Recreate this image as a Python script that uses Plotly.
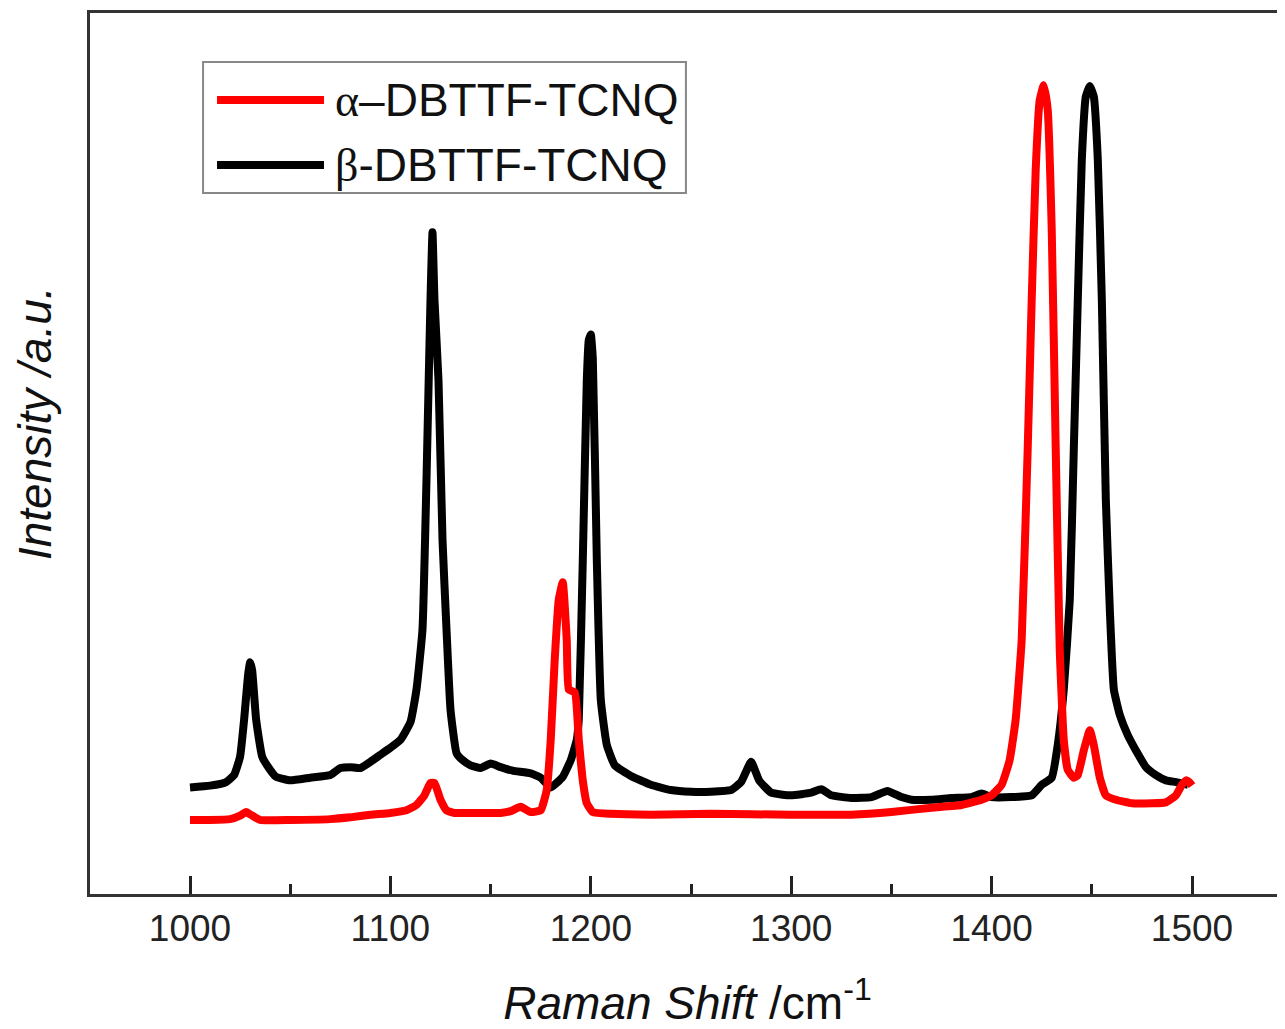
import plotly.graph_objects as go

# ---- data (Raman shift in cm^-1, intensity in arbitrary units) ----
series_names = ["α–DBTTF-TCNQ", "β-DBTTF-TCNQ"]

alpha_shift = [1000, 1010, 1020, 1025, 1028, 1031, 1035, 1050, 1070, 1080, 1090, 1100,
               1108, 1113, 1117, 1120, 1122, 1125, 1128, 1132, 1145, 1155, 1160, 1165,
               1170, 1175, 1178, 1180, 1182, 1184, 1186, 1188, 1189, 1192, 1194, 1196,
               1198, 1201, 1210, 1230, 1260, 1300, 1330, 1350, 1370, 1385, 1395, 1400,
               1405, 1409, 1412, 1415, 1418, 1420, 1422, 1424, 1426, 1428, 1430, 1432,
               1434, 1436, 1438, 1441, 1443, 1446, 1449, 1451, 1454, 1457, 1462, 1470,
               1480, 1487, 1492, 1495, 1497, 1499, 1500]
alpha_int = [8.4, 8.4, 8.5, 8.9, 9.3, 8.9, 8.4, 8.4, 8.5, 8.7, 9.0, 9.2,
             9.5, 10.1, 11.2, 12.6, 12.6, 10.7, 9.5, 9.2, 9.2, 9.2, 9.4, 9.9,
             9.3, 9.5, 11.8, 17.5, 26.6, 33.4, 35.4, 28.8, 23.2, 22.9, 17.5, 12.9,
             10.3, 9.3, 9.1, 9.0, 9.1, 9.0, 9.0, 9.3, 9.8, 10.1, 10.7, 11.2,
             12.4, 15.2, 19.8, 28.8, 50.4, 67.4, 82.2, 90.1, 91.8, 89.0, 75.4, 50.4,
             27.7, 17.5, 14.1, 13.2, 13.5, 16.3, 18.6, 16.9, 13.2, 11.2, 10.7, 10.3,
             10.3, 10.4, 11.2, 12.4, 12.9, 12.6, 12.3]

beta_shift = [1000, 1010, 1018, 1022, 1025, 1027, 1029, 1030, 1031, 1033, 1036, 1040,
              1043, 1050, 1060, 1070, 1075, 1080, 1085, 1090, 1095, 1100, 1105, 1110,
              1113, 1116, 1118, 1120, 1121, 1122, 1124, 1126, 1128, 1130, 1133, 1136,
              1140, 1145, 1150, 1155, 1161, 1170, 1175, 1180, 1186, 1190, 1193, 1194,
              1196, 1198, 1199, 1200, 1201, 1203, 1205, 1208, 1212, 1220, 1230, 1240,
              1250, 1260, 1270, 1275, 1280, 1284, 1290, 1300, 1310, 1315, 1320, 1330,
              1340, 1348, 1355, 1360, 1370, 1380, 1390, 1395, 1400, 1410, 1420, 1425,
              1430, 1433, 1436, 1439, 1441, 1443, 1445, 1447, 1449, 1451, 1453, 1455,
              1457, 1459, 1461, 1464, 1468, 1472, 1477, 1482, 1487, 1492, 1498]
beta_int = [12.1, 12.3, 12.7, 13.5, 15.6, 19.8, 24.9, 26.3, 25.4, 19.8, 15.6, 14.1,
            13.3, 12.9, 13.2, 13.5, 14.3, 14.4, 14.3, 15.0, 15.8, 16.6, 17.5, 19.5,
            23.2, 30.0, 47.0, 67.4, 75.1, 67.4, 58.3, 40.2, 30.0, 20.9, 16.0, 15.2,
            14.6, 14.3, 14.8, 14.4, 14.0, 13.7, 13.2, 12.1, 13.3, 15.2, 17.5, 19.8,
            37.9, 58.3, 62.9, 63.5, 60.8, 37.9, 22.0, 16.9, 14.6, 13.4, 12.4, 11.8,
            11.6, 11.6, 11.8, 12.7, 15.0, 12.9, 11.5, 11.2, 11.5, 11.9, 11.2, 10.9,
            11.0, 11.7, 11.0, 10.7, 10.7, 10.9, 11.0, 11.4, 11.0, 11.0, 11.2, 12.4,
            13.2, 16.9, 23.2, 33.4, 50.4, 67.4, 83.3, 90.5, 91.7, 90.5, 83.3, 67.4,
            44.7, 32.2, 23.2, 20.3, 18.0, 16.3, 14.4, 13.5, 12.9, 12.7, 12.4]

x_ticks = [1000, 1100, 1200, 1300, 1400, 1500]
x_range = [950.1, 1546.4]
y_range = [0, 100]

colors = ["#ff0000", "#000000"]

FONT = "Liberation Sans, Arial, sans-serif"

fig = go.Figure()
fig.add_trace(go.Scatter(x=beta_shift, y=beta_int, mode="lines", name=series_names[1],
                         line=dict(color=colors[1], width=8, shape="spline", smoothing=0.4),
                         showlegend=False))
fig.add_trace(go.Scatter(x=alpha_shift, y=alpha_int, mode="lines", name=series_names[0],
                         line=dict(color=colors[0], width=8, shape="spline", smoothing=0.4),
                         showlegend=False))

# custom legend (box, line samples, labels) in paper coordinates
lx0, lx1, ly0, ly1 = 0.0946, 0.4987, 0.7957, 0.9444
fig.add_shape(type="rect", xref="paper", yref="paper", x0=lx0, x1=lx1, y0=ly0, y1=ly1,
              line=dict(color="#888888", width=2), fillcolor="white", layer="above")
row_y = [0.9012, 0.8275]
for i, yy in enumerate(row_y):
    fig.add_shape(type="line", xref="paper", yref="paper", x0=0.1063, x1=0.1958, y0=yy, y1=yy,
                  line=dict(color=colors[i], width=8), layer="above")
label_html = [
    "<span style='font-family:Liberation Serif, Times New Roman, serif'>α</span>–DBTTF-TCNQ",
    "<span style='font-family:Liberation Serif, Times New Roman, serif'>β</span>-DBTTF-TCNQ",
]
for i, yy in enumerate(row_y):
    fig.add_annotation(xref="paper", yref="paper", x=0.203, y=yy, xanchor="left", yanchor="middle",
                       text=label_html[i], showarrow=False,
                       font=dict(family=FONT, size=46, color="#111111"))

# y-axis title as annotation (placed slightly above plot centre like reference)
fig.add_annotation(xref="paper", yref="paper", x=-0.0460, y=0.5346, xanchor="center", yanchor="middle",
                   text="<i>Intensity /a.u.</i>", textangle=-90, showarrow=False,
                   font=dict(family=FONT, size=46, color="#111111"))

# page body has an 8px margin; figure is offset accordingly
fig.update_layout(
    width=1277, height=1021,
    margin=dict(l=82, r=0, t=5, b=135),
    paper_bgcolor="white", plot_bgcolor="white",
    font=dict(family=FONT, color="#111111"),
    xaxis=dict(range=x_range, tickmode="array", tickvals=x_ticks,
               ticks="inside", ticklen=18, tickwidth=3, tickcolor="#222222",
               showline=True, linewidth=3, linecolor="#333333", mirror=True,
               showgrid=False, zeroline=False,
               tickfont=dict(family=FONT, size=37, color="#222222"),
               minor=dict(dtick=50, tick0=1000, ticks="inside", ticklen=10, tickwidth=3,
                          tickcolor="#222222", showgrid=False),
               title=dict(text="<i>Raman Shift</i> /cm<sup>-1</sup>",
                          font=dict(family=FONT, size=46, color="#111111"), standoff=40)),
    yaxis=dict(range=y_range, showticklabels=False, ticks="", showgrid=False, zeroline=False,
               showline=True, linewidth=3, linecolor="#333333", mirror=False),
    showlegend=False,
)

fig.write_html("out.html")
